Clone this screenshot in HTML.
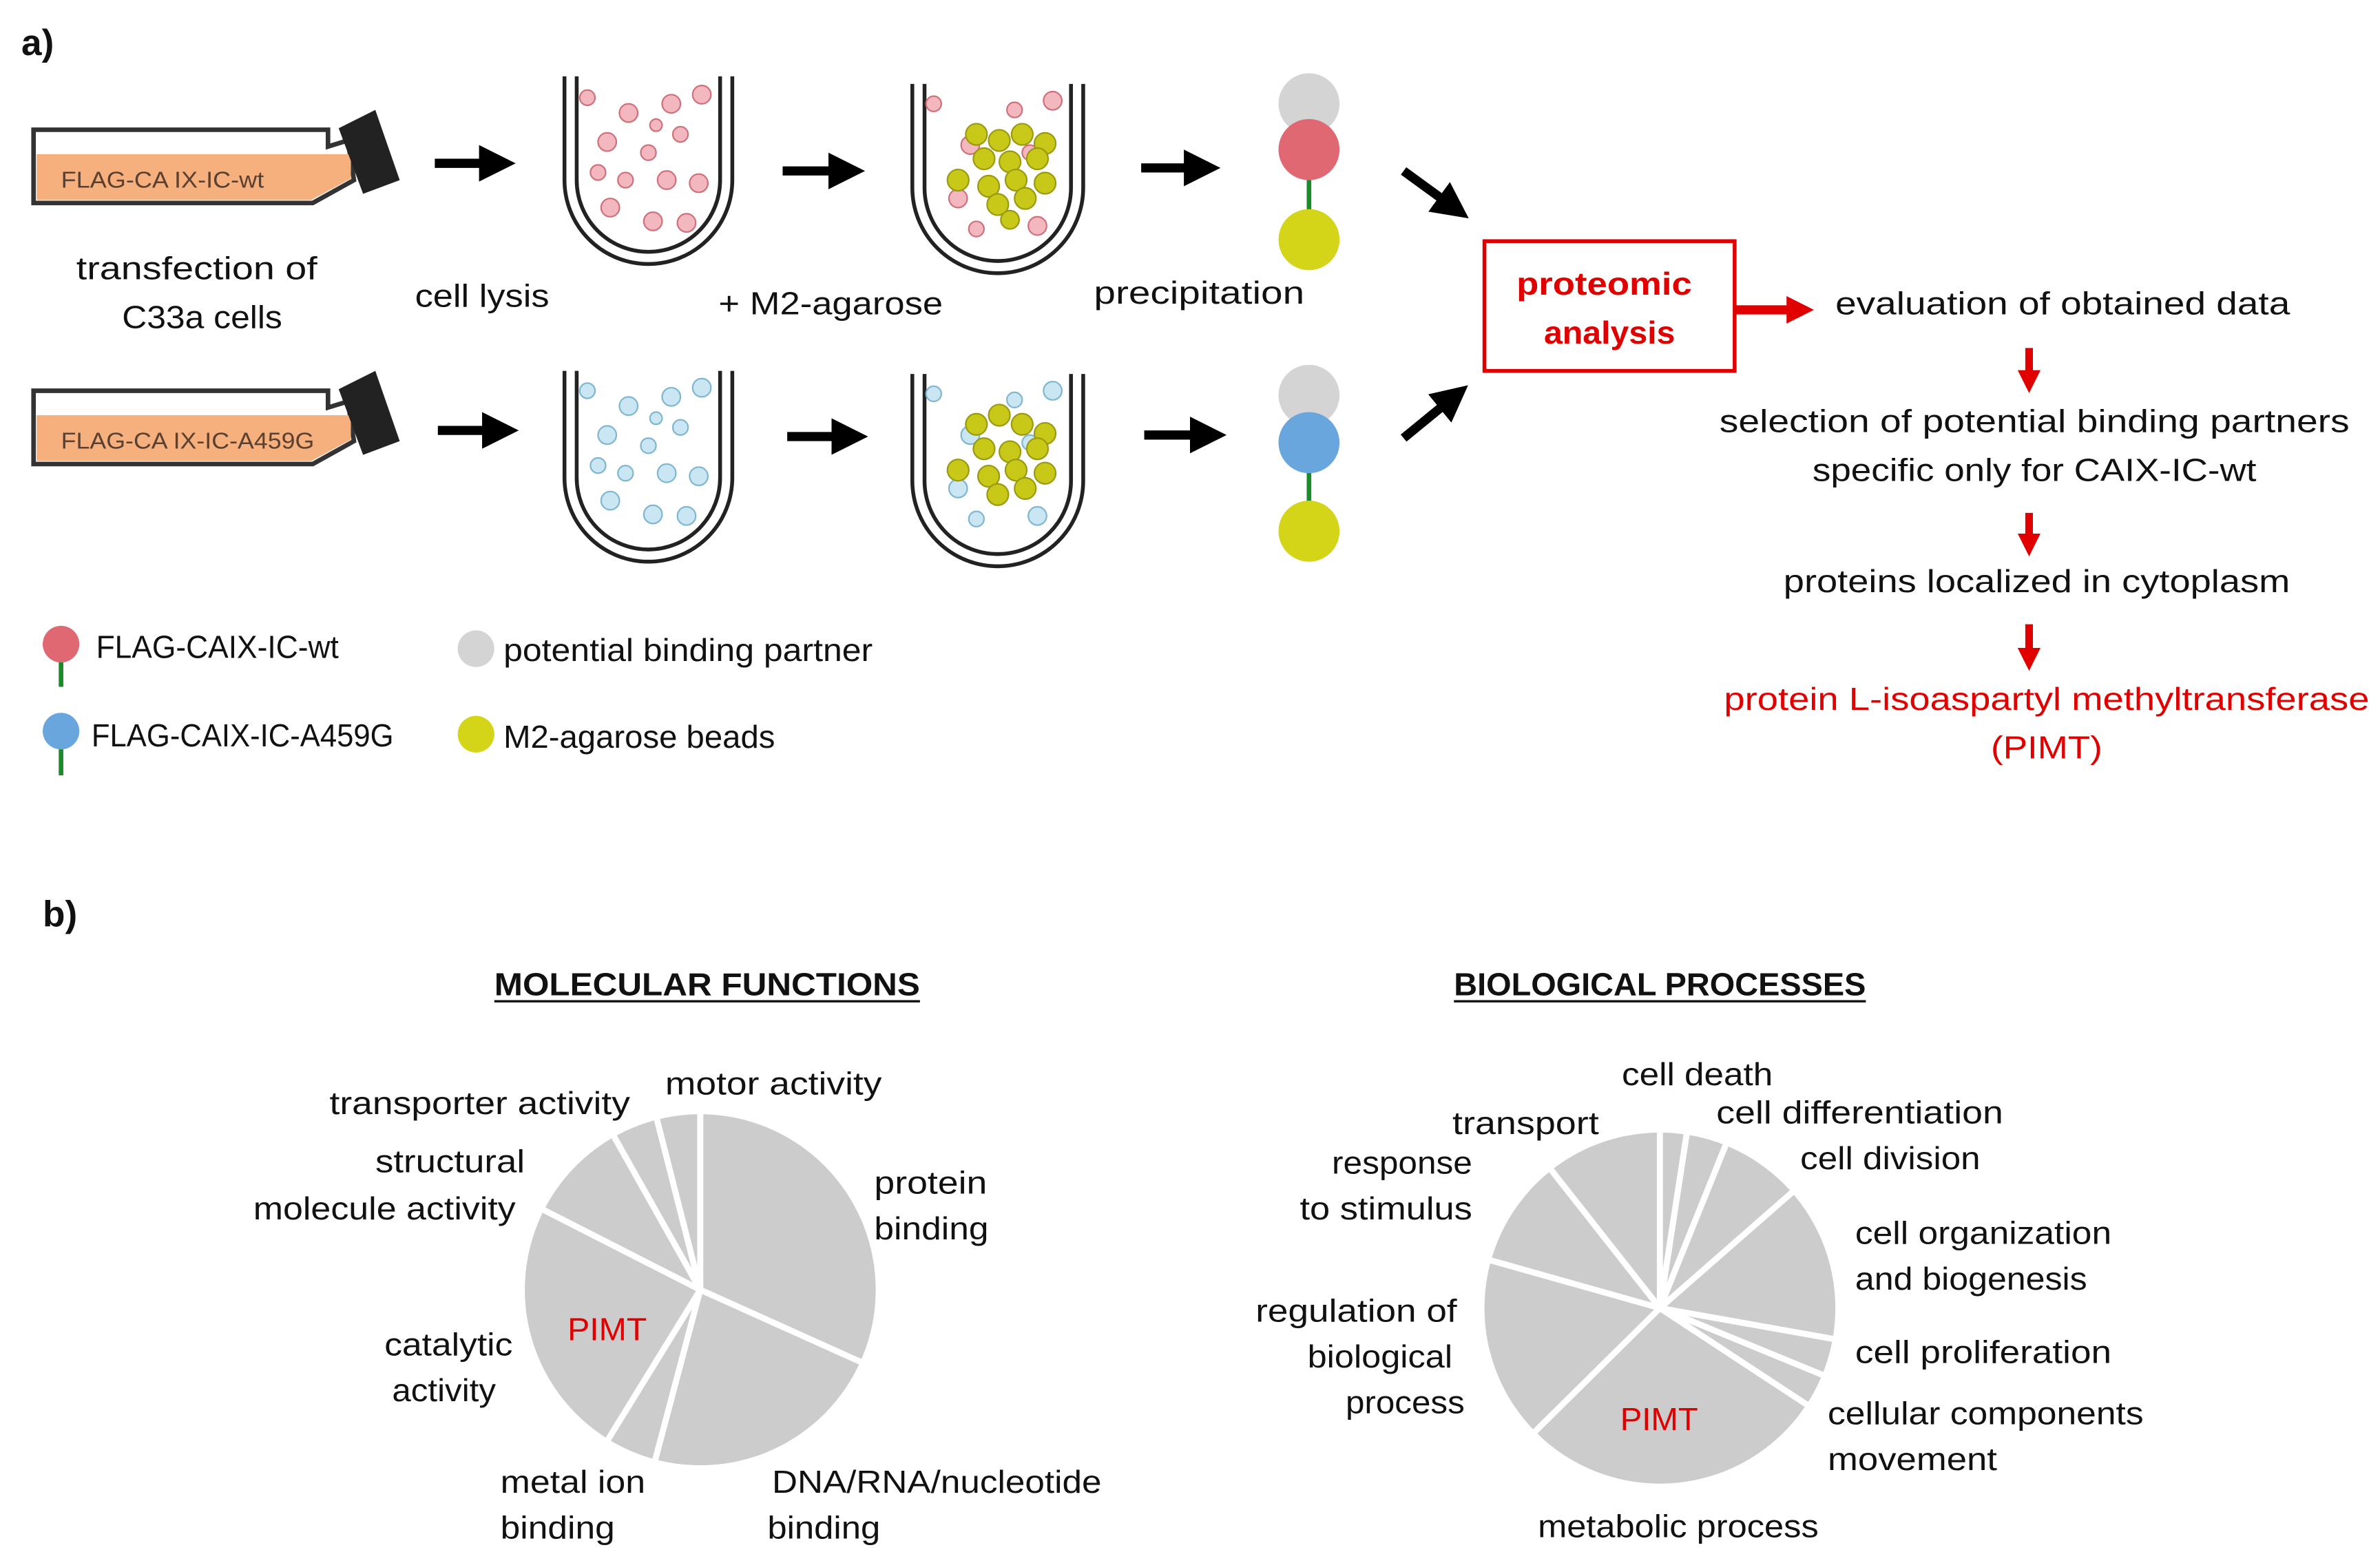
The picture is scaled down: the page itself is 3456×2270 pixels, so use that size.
<!DOCTYPE html>
<html><head><meta charset="utf-8"><style>
html,body{margin:0;padding:0;background:#fff;}
svg{display:block;}
text{font-family:"Liberation Sans",sans-serif;font-size:21px;fill:#111;}
.r{fill:#e00000;}
</style></head><body>
<svg width="3456" height="2270" viewBox="0 0 1560 1024" preserveAspectRatio="none" xmlns="http://www.w3.org/2000/svg">
<defs>
<marker id="ah" markerWidth="4" markerHeight="4" refX="2" refY="2" orient="auto" markerUnits="strokeWidth"><path d="M0,0 L4,2 L0,4 z" fill="#000"/></marker>
<marker id="rh" markerWidth="3" markerHeight="3" refX="1.5" refY="1.5" orient="auto" markerUnits="strokeWidth"><path d="M0,0 L3,1.5 L0,3 z" fill="#e00000"/></marker>
</defs>
<text x="14" y="36" style="font-weight:bold;font-size:24px">a)</text>

<!-- flasks -->
<g>
<polygon points="22,85 215,85 215,96 228,92 232,118 205,133 22,133" fill="#fff" stroke="#333" stroke-width="3"/>
<polygon points="24,101 230,101 230,117 204,131 24,131" fill="#f6b07e"/>
<polygon points="222,84 246,72 262,118 238,127" fill="#222"/>
<text x="40" y="123" textLength="133" lengthAdjust="spacingAndGlyphs" style="font-size:15px;fill:#5a4030">FLAG-CA IX-IC-wt</text>
</g>
<g transform="translate(0,171)">
<polygon points="22,85 215,85 215,96 228,92 232,118 205,133 22,133" fill="#fff" stroke="#333" stroke-width="3"/>
<polygon points="24,101 230,101 230,117 204,131 24,131" fill="#f6b07e"/>
<polygon points="222,84 246,72 262,118 238,127" fill="#222"/>
<text x="40" y="123" textLength="166" lengthAdjust="spacingAndGlyphs" style="font-size:15px;fill:#5a4030">FLAG-CA IX-IC-A459G</text>
</g>

<!-- arrows -->
<g stroke="#000" stroke-width="6" marker-end="url(#ah)">
<line x1="285" y1="107" x2="326" y2="107"/>
<line x1="513" y1="112" x2="555" y2="112"/>
<line x1="748" y1="110" x2="788" y2="110"/>
<line x1="287" y1="282" x2="328" y2="282"/>
<line x1="516" y1="286" x2="557" y2="286"/>
<line x1="750" y1="285" x2="792" y2="285"/>
<line x1="920" y1="112" x2="953" y2="136"/>
<line x1="920" y1="287" x2="953" y2="260"/>
</g>

<!-- tubes -->
<g fill="none" stroke="#222" stroke-width="2.5">
<path d="M370,50 V118 A55,55 0 0 0 480,118 V50"/>
<path d="M378,50 V118 A47,47 0 0 0 472,118 V50"/>
<path d="M598,55 V123 A56,56 0 0 0 710,123 V55"/>
<path d="M606,55 V123 A48,48 0 0 0 702,123 V55"/>
<path d="M370,243 V313 A55,55 0 0 0 480,313 V243"/>
<path d="M378,243 V313 A47,47 0 0 0 472,313 V243"/>
<path d="M598,245 V315 A56,56 0 0 0 710,315 V245"/>
<path d="M606,245 V315 A48,48 0 0 0 702,315 V245"/>
</g>
<!-- particles tube1 red -->
<g fill="#f3b8bf" stroke="#d0707a" stroke-width="1">
<circle cx="385" cy="64" r="5"/><circle cx="412" cy="74" r="6"/><circle cx="440" cy="68" r="6"/><circle cx="460" cy="62" r="6"/>
<circle cx="398" cy="93" r="6"/><circle cx="425" cy="100" r="5"/><circle cx="446" cy="88" r="5"/><circle cx="430" cy="82" r="4"/>
<circle cx="392" cy="113" r="5"/><circle cx="410" cy="118" r="5"/><circle cx="437" cy="118" r="6"/><circle cx="458" cy="120" r="6"/>
<circle cx="400" cy="136" r="6"/><circle cx="428" cy="145" r="6"/><circle cx="450" cy="146" r="6"/>
</g>
<g fill="#f3b8bf" stroke="#d0707a" stroke-width="1">
<circle cx="612" cy="68" r="5"/><circle cx="690" cy="66" r="6"/><circle cx="636" cy="95" r="6"/><circle cx="628" cy="130" r="6"/><circle cx="675" cy="100" r="5"/><circle cx="680" cy="148" r="6"/><circle cx="640" cy="150" r="5"/><circle cx="665" cy="72" r="5"/>
</g>
<g fill="#c8c818" stroke="#9a9a10" stroke-width="1">
<circle cx="640" cy="88" r="7"/><circle cx="655" cy="92" r="7"/><circle cx="670" cy="88" r="7"/><circle cx="685" cy="94" r="7"/><circle cx="645" cy="104" r="7"/><circle cx="662" cy="106" r="7"/><circle cx="680" cy="104" r="7"/>
<circle cx="628" cy="118" r="7"/><circle cx="648" cy="122" r="7"/><circle cx="666" cy="118" r="7"/><circle cx="685" cy="120" r="7"/><circle cx="654" cy="134" r="7"/><circle cx="672" cy="130" r="7"/><circle cx="662" cy="144" r="6"/>
</g>
<!-- tube blue -->
<g fill="#cbe6f3" stroke="#7fb6d0" stroke-width="1">
<circle cx="385" cy="256" r="5"/><circle cx="412" cy="266" r="6"/><circle cx="440" cy="260" r="6"/><circle cx="460" cy="254" r="6"/>
<circle cx="398" cy="285" r="6"/><circle cx="425" cy="292" r="5"/><circle cx="446" cy="280" r="5"/><circle cx="430" cy="274" r="4"/>
<circle cx="392" cy="305" r="5"/><circle cx="410" cy="310" r="5"/><circle cx="437" cy="310" r="6"/><circle cx="458" cy="312" r="6"/>
<circle cx="400" cy="328" r="6"/><circle cx="428" cy="337" r="6"/><circle cx="450" cy="338" r="6"/>
<circle cx="612" cy="258" r="5"/><circle cx="690" cy="256" r="6"/><circle cx="636" cy="285" r="6"/><circle cx="628" cy="320" r="6"/><circle cx="675" cy="290" r="5"/><circle cx="680" cy="338" r="6"/><circle cx="640" cy="340" r="5"/><circle cx="665" cy="262" r="5"/>
</g>
<g fill="#c8c818" stroke="#9a9a10" stroke-width="1">
<circle cx="640" cy="278" r="7"/><circle cx="655" cy="272" r="7"/><circle cx="670" cy="278" r="7"/><circle cx="685" cy="284" r="7"/><circle cx="645" cy="294" r="7"/><circle cx="662" cy="296" r="7"/><circle cx="680" cy="294" r="7"/>
<circle cx="628" cy="308" r="7"/><circle cx="648" cy="312" r="7"/><circle cx="666" cy="308" r="7"/><circle cx="685" cy="310" r="7"/><circle cx="654" cy="324" r="7"/><circle cx="672" cy="320" r="7"/>
</g>

<!-- complexes -->
<circle cx="858" cy="68" r="20" fill="#d4d4d4"/>
<line x1="858" y1="115" x2="858" y2="140" stroke="#1a8a2a" stroke-width="3"/>
<circle cx="858" cy="98" r="20" fill="#e06872"/>
<circle cx="858" cy="157" r="20" fill="#d4d418"/>
<circle cx="858" cy="259" r="20" fill="#d4d4d4"/>
<line x1="858" y1="308" x2="858" y2="330" stroke="#1a8a2a" stroke-width="3"/>
<circle cx="858" cy="290" r="20" fill="#6aa6de"/>
<circle cx="858" cy="348" r="20" fill="#d4d418"/>

<!-- labels a -->
<text x="50" y="183" textLength="158" lengthAdjust="spacingAndGlyphs">transfection of</text>
<text x="80" y="215" textLength="105" lengthAdjust="spacingAndGlyphs">C33a cells</text>
<text x="272" y="201" textLength="88" lengthAdjust="spacingAndGlyphs">cell lysis</text>
<text x="471" y="206" textLength="147" lengthAdjust="spacingAndGlyphs">+ M2-agarose</text>
<text x="717" y="199" textLength="138" lengthAdjust="spacingAndGlyphs">precipitation</text>

<!-- red box -->
<rect x="973" y="158" width="164" height="85" fill="none" stroke="#e00000" stroke-width="2.5"/>
<text x="994" y="193" class="r" textLength="115" lengthAdjust="spacingAndGlyphs" style="font-weight:bold">proteomic</text>
<text x="1012" y="225" class="r" textLength="86" lengthAdjust="spacingAndGlyphs" style="font-weight:bold">analysis</text>
<line x1="1138" y1="203" x2="1180" y2="203" stroke="#e00000" stroke-width="6" marker-end="url(#rh)"/>
<g stroke="#e00000" stroke-width="5" marker-end="url(#rh)">
<line x1="1330" y1="228" x2="1330" y2="250"/>
<line x1="1330" y1="336" x2="1330" y2="357"/>
<line x1="1330" y1="409" x2="1330" y2="432"/>
</g>
<text x="1203" y="206" textLength="298" lengthAdjust="spacingAndGlyphs">evaluation of obtained data</text>
<text x="1127" y="283" textLength="413" lengthAdjust="spacingAndGlyphs">selection of potential binding partners</text>
<text x="1188" y="315" textLength="291" lengthAdjust="spacingAndGlyphs">specific only for CAIX-IC-wt</text>
<text x="1169" y="388" textLength="332" lengthAdjust="spacingAndGlyphs">proteins localized in cytoplasm</text>
<text x="1130" y="465" class="r" textLength="423" lengthAdjust="spacingAndGlyphs">protein L-isoaspartyl methyltransferase</text>
<text x="1305" y="497" class="r" textLength="73" lengthAdjust="spacingAndGlyphs">(PIMT)</text>

<!-- legend -->
<line x1="40" y1="428" x2="40" y2="450" stroke="#1a8a2a" stroke-width="3"/>
<circle cx="40" cy="422" r="12" fill="#e06872"/>
<line x1="40" y1="485" x2="40" y2="508" stroke="#1a8a2a" stroke-width="3"/>
<circle cx="40" cy="479" r="12" fill="#6aa6de"/>
<circle cx="312" cy="425" r="12" fill="#d4d4d4"/>
<circle cx="312" cy="481" r="12" fill="#d4d418"/>
<text x="63" y="431" textLength="159" lengthAdjust="spacingAndGlyphs">FLAG-CAIX-IC-wt</text>
<text x="60" y="489" textLength="198" lengthAdjust="spacingAndGlyphs">FLAG-CAIX-IC-A459G</text>
<text x="330" y="433" textLength="242" lengthAdjust="spacingAndGlyphs">potential binding partner</text>
<text x="330" y="490" textLength="178" lengthAdjust="spacingAndGlyphs">M2-agarose beads</text>

<!-- b -->
<text x="28" y="607" style="font-weight:bold;font-size:24px">b)</text>
<text x="324" y="652" textLength="279" lengthAdjust="spacingAndGlyphs" style="font-weight:bold">MOLECULAR  FUNCTIONS</text>
<line x1="324" y1="656" x2="603" y2="656" stroke="#111" stroke-width="1.5"/>
<text x="953" y="652" textLength="270" lengthAdjust="spacingAndGlyphs" style="font-weight:bold">BIOLOGICAL  PROCESSES</text>
<line x1="953" y1="656" x2="1223" y2="656" stroke="#111" stroke-width="1.5"/>

<!-- pie 1 -->
<circle cx="459" cy="845" r="115" fill="#cccccc"/>
<g stroke="#fff" stroke-width="4">
<line x1="459" y1="845" x2="459" y2="726"/>
<line x1="459" y1="845" x2="430" y2="731"/>
<line x1="459" y1="845" x2="401" y2="742"/>
<line x1="459" y1="845" x2="355" y2="792"/>
<line x1="459" y1="845" x2="568" y2="894"/>
<line x1="459" y1="845" x2="428" y2="962"/>
<line x1="459" y1="845" x2="398" y2="944"/>
</g>
<text x="372" y="878" class="r" textLength="52" lengthAdjust="spacingAndGlyphs">PIMT</text>
<text x="436" y="717" textLength="142" lengthAdjust="spacingAndGlyphs">motor activity</text>
<text x="216" y="730" textLength="197" lengthAdjust="spacingAndGlyphs">transporter activity</text>
<text x="246" y="768" textLength="98" lengthAdjust="spacingAndGlyphs">structural</text>
<text x="166" y="799" textLength="172" lengthAdjust="spacingAndGlyphs">molecule activity</text>
<text x="573" y="782" textLength="74" lengthAdjust="spacingAndGlyphs">protein</text>
<text x="573" y="812" textLength="75" lengthAdjust="spacingAndGlyphs">binding</text>
<text x="252" y="888" textLength="84" lengthAdjust="spacingAndGlyphs">catalytic</text>
<text x="257" y="918" textLength="68" lengthAdjust="spacingAndGlyphs">activity</text>
<text x="328" y="978" textLength="95" lengthAdjust="spacingAndGlyphs">metal ion</text>
<text x="328" y="1008" textLength="75" lengthAdjust="spacingAndGlyphs">binding</text>
<text x="506" y="978" textLength="216" lengthAdjust="spacingAndGlyphs">DNA/RNA/nucleotide</text>
<text x="503" y="1008" textLength="74" lengthAdjust="spacingAndGlyphs">binding</text>

<!-- pie 2 -->
<circle cx="1088" cy="857" r="115" fill="#cccccc"/>
<g stroke="#fff" stroke-width="4">
<line x1="1088" y1="857" x2="1088" y2="738"/>
<line x1="1088" y1="857" x2="1106" y2="740"/>
<line x1="1088" y1="857" x2="1132" y2="748"/>
<line x1="1088" y1="857" x2="1176" y2="780"/>
<line x1="1088" y1="857" x2="1206" y2="878"/>
<line x1="1088" y1="857" x2="1200" y2="903"/>
<line x1="1088" y1="857" x2="1190" y2="924"/>
<line x1="1088" y1="857" x2="1002" y2="942"/>
<line x1="1088" y1="857" x2="971" y2="824"/>
<line x1="1088" y1="857" x2="1014" y2="763"/>
</g>
<text x="1062" y="937" class="r" textLength="51" lengthAdjust="spacingAndGlyphs">PIMT</text>
<text x="1063" y="711" textLength="99" lengthAdjust="spacingAndGlyphs">cell death</text>
<text x="1125" y="736" textLength="188" lengthAdjust="spacingAndGlyphs">cell differentiation</text>
<text x="952" y="743" textLength="96" lengthAdjust="spacingAndGlyphs">transport</text>
<text x="1180" y="766" textLength="118" lengthAdjust="spacingAndGlyphs">cell division</text>
<text x="873" y="769" textLength="92" lengthAdjust="spacingAndGlyphs">response</text>
<text x="852" y="799" textLength="113" lengthAdjust="spacingAndGlyphs">to stimulus</text>
<text x="1216" y="815" textLength="168" lengthAdjust="spacingAndGlyphs">cell organization</text>
<text x="1216" y="845" textLength="152" lengthAdjust="spacingAndGlyphs">and biogenesis</text>
<text x="823" y="866" textLength="132" lengthAdjust="spacingAndGlyphs">regulation of</text>
<text x="857" y="896" textLength="95" lengthAdjust="spacingAndGlyphs">biological</text>
<text x="882" y="926" textLength="78" lengthAdjust="spacingAndGlyphs">process</text>
<text x="1216" y="893" textLength="168" lengthAdjust="spacingAndGlyphs">cell proliferation</text>
<text x="1198" y="933" textLength="207" lengthAdjust="spacingAndGlyphs">cellular components</text>
<text x="1198" y="963" textLength="111" lengthAdjust="spacingAndGlyphs">movement</text>
<text x="1008" y="1007" textLength="184" lengthAdjust="spacingAndGlyphs">metabolic process</text>
</svg>
</body></html>
